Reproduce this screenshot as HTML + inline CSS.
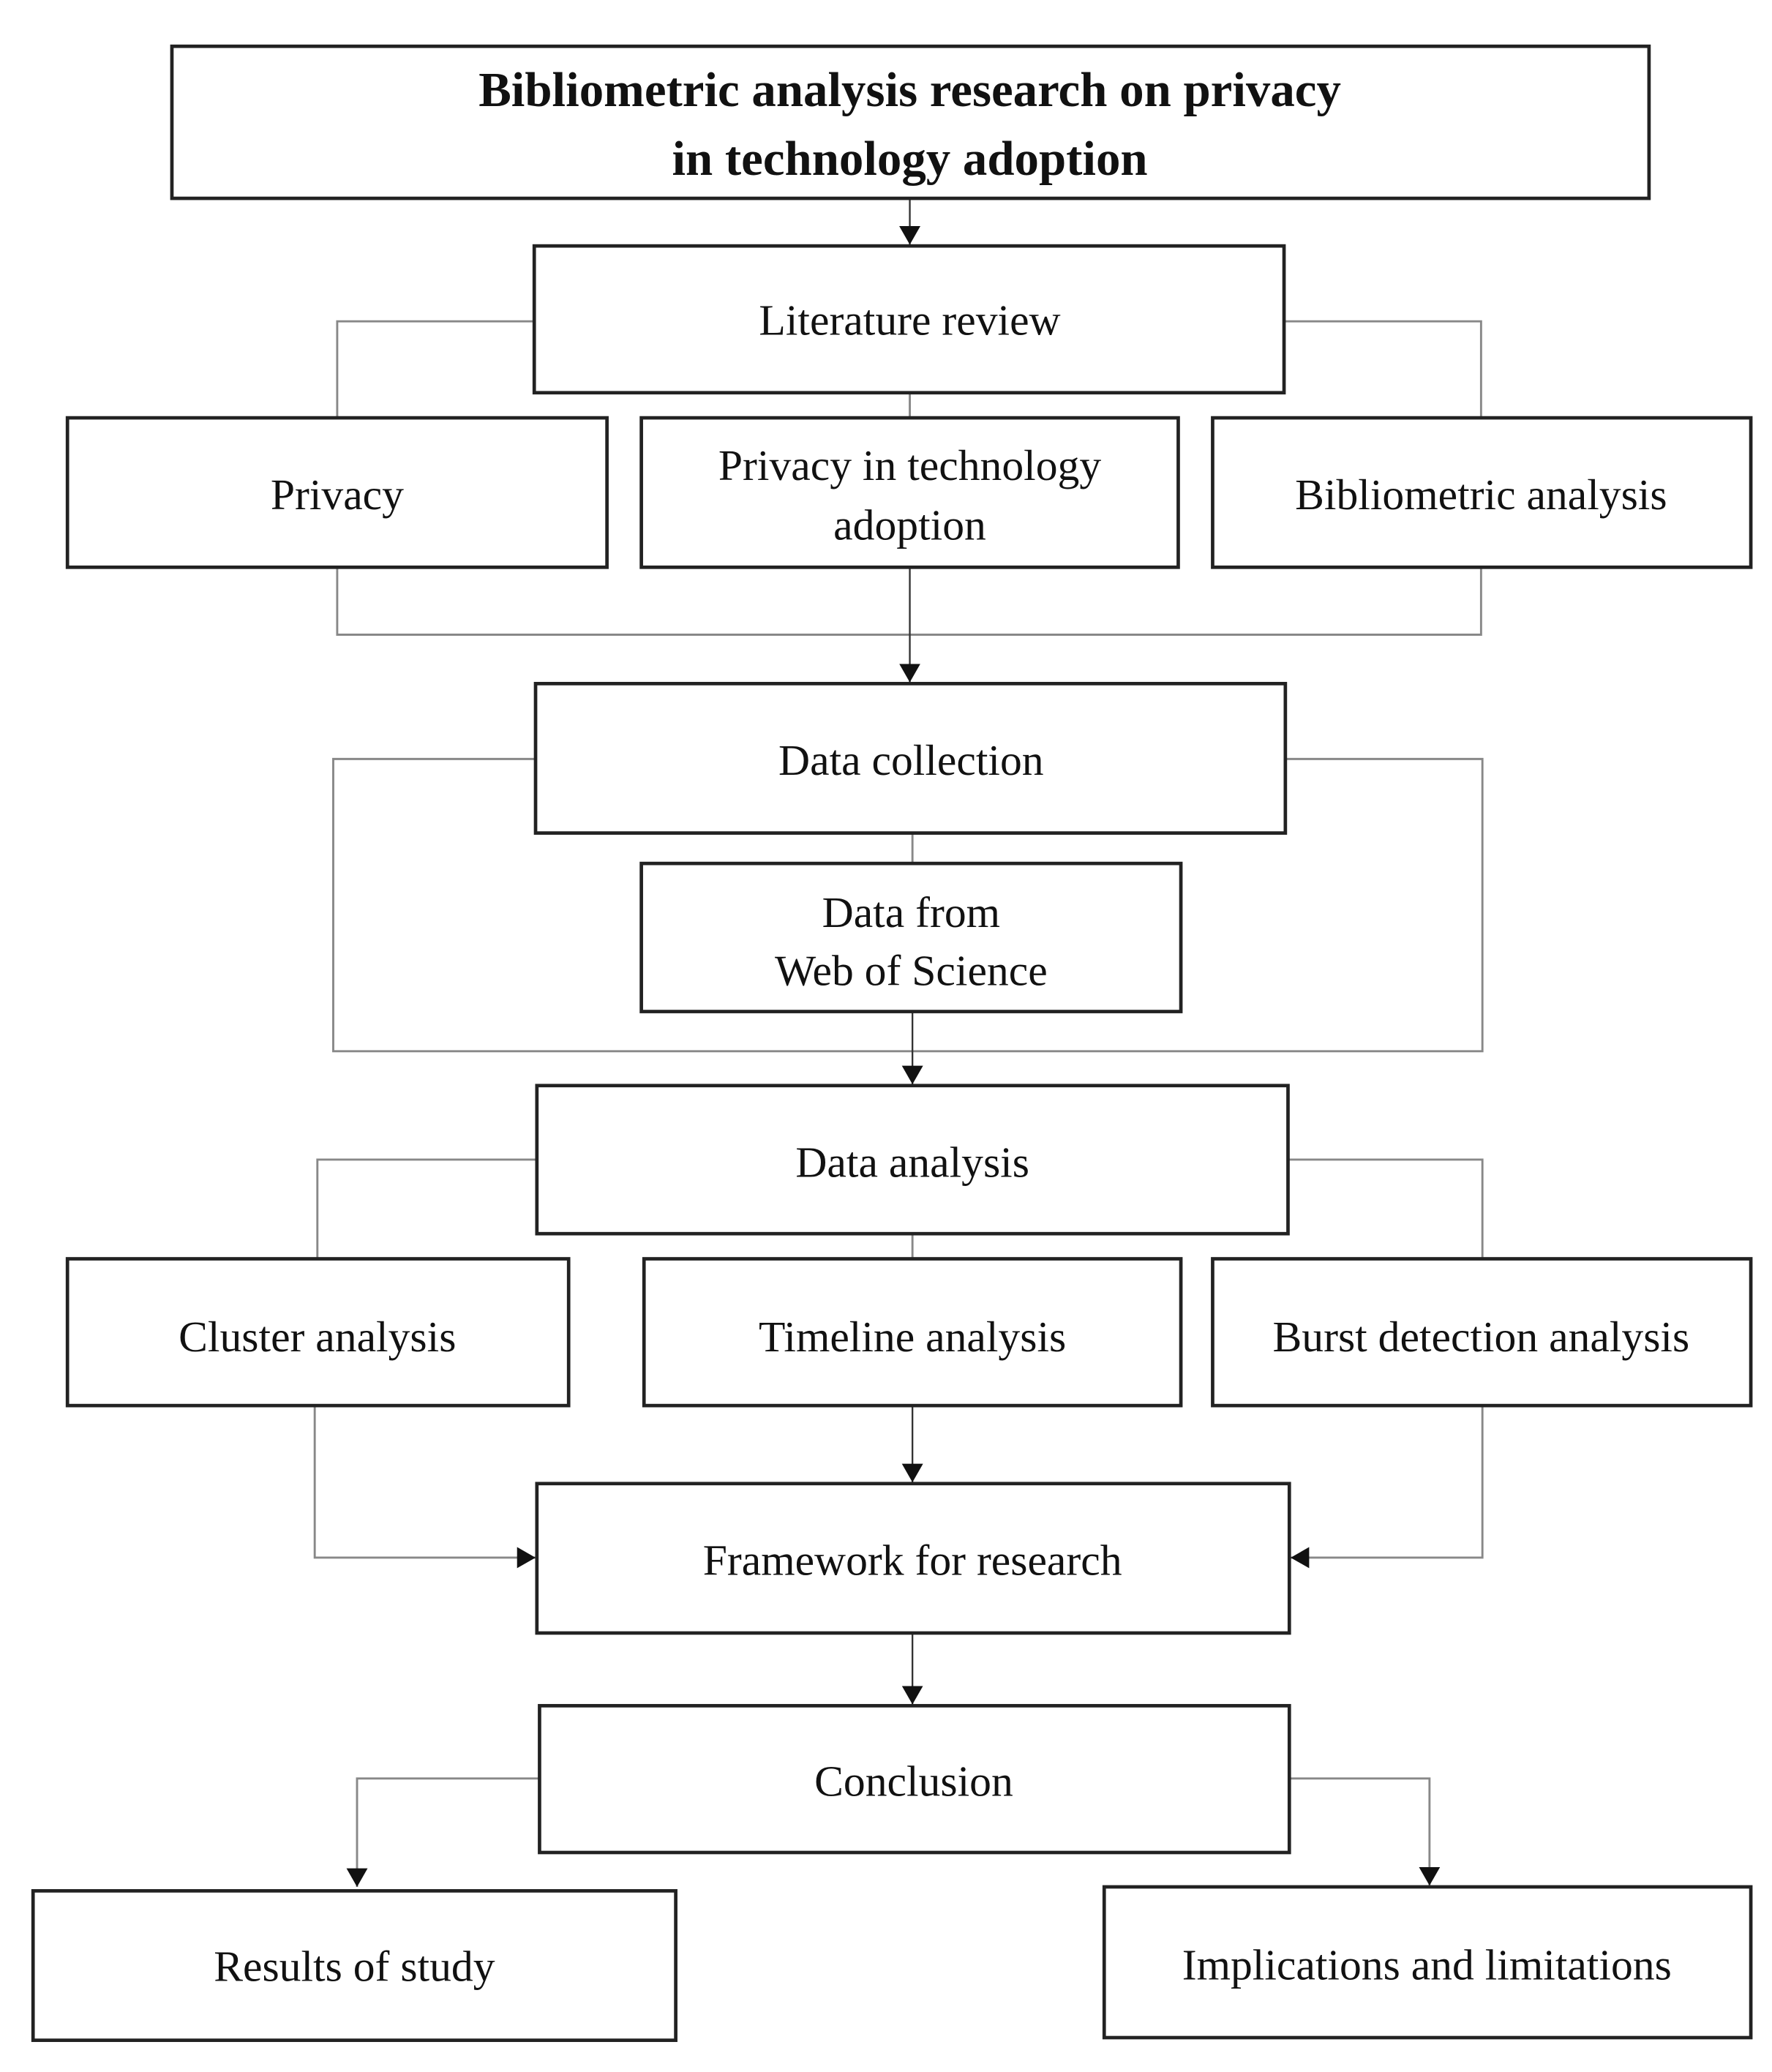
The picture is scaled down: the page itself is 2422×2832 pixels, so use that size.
<!DOCTYPE html>
<html><head><meta charset="utf-8"><style>
html,body{margin:0;padding:0;background:#fff;}
svg{display:block;}
text{font-family:"Liberation Serif",serif;fill:#111;text-anchor:middle;dominant-baseline:central;}
.b{fill:#fff;stroke:#222;stroke-width:2.6;}
.c{fill:none;stroke:#888;stroke-width:1.6;}
.a{fill:none;stroke:#333;stroke-width:1.3;}
</style></head><body>
<svg width="2422" height="2832" viewBox="0 0 1340 1567" preserveAspectRatio="none">
<defs><marker id="m" markerWidth="10" markerHeight="10" refX="9" refY="5" orient="auto" markerUnits="userSpaceOnUse"><path d="M0,0 L10,5 L0,10 z" fill="#111"/></marker>
<marker id="m2" markerWidth="14" markerHeight="16" refX="14" refY="8" orient="auto" markerUnits="userSpaceOnUse"><path d="M0,0 L14,8 L0,16 z" fill="#111"/></marker></defs>

<!-- connectors -->
<line class="a" x1="688" y1="150" x2="688" y2="185" marker-end="url(#m2)"/>
<polyline class="c" points="404,243 255,243 255,316"/>
<polyline class="c" points="971,243 1120,243 1120,316"/>
<line class="c" x1="688" y1="297" x2="688" y2="316"/>
<polyline class="c" points="255,429 255,480 1120,480 1120,429"/>
<line class="a" x1="688" y1="429" x2="688" y2="516" marker-end="url(#m2)"/>
<polyline class="c" points="405,574 252,574 252,795 1121,795 1121,574 972,574"/>
<line class="c" x1="690" y1="630" x2="690" y2="653"/>
<line class="a" x1="690" y1="765" x2="690" y2="820" marker-end="url(#m2)"/>
<polyline class="c" points="406,877 240,877 240,952"/>
<polyline class="c" points="974,877 1121,877 1121,952"/>
<line class="c" x1="690" y1="933" x2="690" y2="952"/>
<polyline class="c" points="238,1063 238,1178 405,1178" marker-end="url(#m2)"/>
<polyline class="c" points="1121,1063 1121,1178 976,1178" marker-end="url(#m2)"/>
<line class="a" x1="690" y1="1063" x2="690" y2="1121" marker-end="url(#m2)"/>
<line class="a" x1="690" y1="1235" x2="690" y2="1289" marker-end="url(#m2)"/>
<polyline class="c" points="408,1345 270,1345 270,1427" marker-end="url(#m2)"/>
<polyline class="c" points="975,1345 1081,1345 1081,1426" marker-end="url(#m2)"/>

<!-- boxes -->
<rect class="b" x="130" y="35" width="1117" height="115"/>
<text x="688" y="68" font-size="37" font-weight="bold">Bibliometric analysis research on privacy</text>
<text x="688" y="120" font-size="37" font-weight="bold">in technology adoption</text>

<rect class="b" x="404" y="186" width="567" height="111"/>
<text x="688" y="242" font-size="33">Literature review</text>

<rect class="b" x="51" y="316" width="408" height="113"/>
<text x="255" y="374" font-size="33">Privacy</text>
<rect class="b" x="485" y="316" width="406" height="113"/>
<text x="688" y="352" font-size="33">Privacy in technology</text>
<text x="688" y="397" font-size="33">adoption</text>
<rect class="b" x="917" y="316" width="407" height="113"/>
<text x="1120" y="374" font-size="33">Bibliometric analysis</text>

<rect class="b" x="405" y="517" width="567" height="113"/>
<text x="689" y="575" font-size="33">Data collection</text>

<rect class="b" x="485" y="653" width="408" height="112"/>
<text x="689" y="690" font-size="33">Data from</text>
<text x="689" y="734" font-size="33">Web of Science</text>

<rect class="b" x="406" y="821" width="568" height="112"/>
<text x="690" y="879" font-size="33">Data analysis</text>

<rect class="b" x="51" y="952" width="379" height="111"/>
<text x="240" y="1011" font-size="33">Cluster analysis</text>
<rect class="b" x="487" y="952" width="406" height="111"/>
<text x="690" y="1011" font-size="33">Timeline analysis</text>
<rect class="b" x="917" y="952" width="407" height="111"/>
<text x="1120" y="1011" font-size="33">Burst detection analysis</text>

<rect class="b" x="406" y="1122" width="569" height="113"/>
<text x="690" y="1180" font-size="33">Framework for research</text>

<rect class="b" x="408" y="1290" width="567" height="111"/>
<text x="691" y="1347" font-size="33">Conclusion</text>

<rect class="b" x="25" y="1430" width="486" height="113"/>
<text x="268" y="1487" font-size="33">Results of study</text>
<rect class="b" x="835" y="1427" width="489" height="114"/>
<text x="1079" y="1486" font-size="33">Implications and limitations</text>
</svg>
</body></html>
